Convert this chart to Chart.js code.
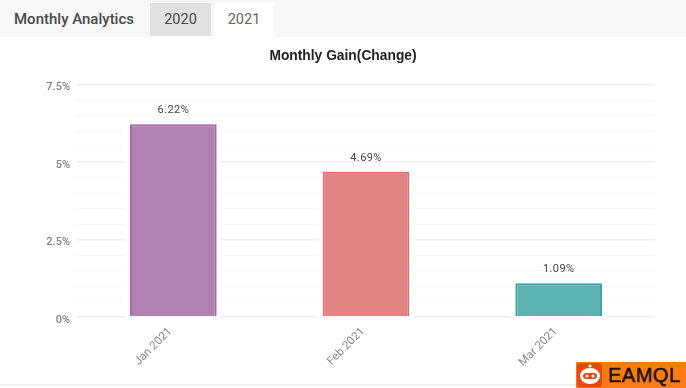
<!DOCTYPE html>
<html>
<head>
<meta charset="utf-8">
<script src="https://cdn.jsdelivr.net/npm/chart.js@4"></script>
<style>
  html, body { margin: 0; padding: 0; background: #fff; overflow: hidden; }
  body { width: 686px; height: 388px; position: relative; font-family: Roboto, sans-serif; }
  #page { position: absolute; left: 0; top: 0; width: 686px; height: 388px; filter: blur(0.4px); }
  #header { position: absolute; left: 0; top: 0; width: 686px; height: 37px; background: #f7f7f7; }
  #header div { position: absolute; line-height: 34px; font-size: 14.5px; color: #4a4a4a; }
  #heading { left: 14px; top: 2px; font-weight: 500; font-size: 15px !important; }
  #tab2020 { left: 150px; top: 3px; width: 61px; height: 33px; background: #e1e1e1; text-align: center; }
  #tab2021 { left: 214px; top: 3px; width: 60px; height: 34px; background: #fff; text-align: center; color: #666 !important; }
  #chartBox { position: absolute; left: 0; top: 37px; width: 686px; height: 348px; }
  #footer { position: absolute; left: 0; top: 384px; width: 686px; height: 2px; background: #f1f1f1; }
  #badge { position: absolute; left: 576px; top: 362px; width: 110px; height: 26px; background: #fb7a14; overflow: hidden; }
  #badge .icon { position: absolute; left: 1px; top: 1px; width: 25px; height: 24px; background: #e8480f; border-radius: 4px; }
  #badge svg { position: absolute; left: 2px; top: 1px; }
  #badge .name { position: absolute; left: 32px; top: 0; line-height: 27px; font-size: 20px; color: #1a1208; letter-spacing: 0.5px; -webkit-text-stroke: 0.5px #1a1208; font-family: "Liberation Sans", sans-serif; }
</style>
</head>
<body>
<div id="page">
<div id="header">
  <div id="heading">Monthly Analytics</div>
  <div id="tab2020">2020</div>
  <div id="tab2021">2021</div>
</div>
<div id="chartBox"><canvas id="gainChart"></canvas></div>
<div id="footer"></div>
<div id="badge">
  <div class="icon"></div>
  <svg width="24" height="24" viewBox="0 0 24 24">
    <circle cx="12" cy="3" r="1.6" fill="#fff"/>
    <ellipse cx="12" cy="13" rx="10" ry="8" fill="#fff"/>
    <rect x="5" y="10" width="14" height="6" rx="3" fill="#e8480f"/>
    <circle cx="9" cy="13" r="1.5" fill="#fff"/>
    <circle cx="15" cy="13" r="1.5" fill="#fff"/>
  </svg>
  <div class="name">EAMQL</div>
</div>
</div>
<script>
const categories = ["Jan 2021", "Feb 2021", "Mar 2021"];
const gains = [6.22, 4.69, 1.09];
const gainLabels = ["6.22%", "4.69%", "1.09%"];
const barFills = ["#b181b2", "#e28482", "#5bb3b3"];
const barEdges = ["#a867a9", "#dc6f6d", "#3fa5a5"];
const majorTicks = [0, 2.5, 5, 7.5];

// white halo behind the bars, the gridlines stop short of them
const barHalo = {
  id: "barHalo",
  beforeDatasetsDraw(chart) {
    const ctx = chart.ctx;
    ctx.save();
    ctx.fillStyle = "#fff";
    chart.getDatasetMeta(0).data.forEach(bar => {
      ctx.fillRect(bar.x - bar.width / 2 - 4, bar.y - 4, bar.width + 8, bar.base - bar.y + 6);
    });
    ctx.restore();
  }
};

// value above each bar
const valueLabels = {
  id: "valueLabels",
  afterDatasetsDraw(chart) {
    const ctx = chart.ctx;
    ctx.save();
    ctx.font = "11px Roboto";
    ctx.fillStyle = "#444";
    ctx.textAlign = "center";
    ctx.textBaseline = "bottom";
    ctx.letterSpacing = "0.4px";
    chart.getDatasetMeta(0).data.forEach((bar, i) => {
      ctx.fillText(gainLabels[i], bar.x, bar.y - 8);
    });
    ctx.restore();
  }
};

new Chart(document.getElementById("gainChart"), {
  type: "bar",
  data: {
    labels: categories,
    datasets: [{
      data: gains,
      backgroundColor: barFills,
      borderColor: barEdges,
      borderWidth: 2,
      barPercentage: 0.45,
      categoryPercentage: 1
    }]
  },
  plugins: [barHalo, valueLabels],
  options: {
    responsive: true,
    maintainAspectRatio: false,
    animation: false,
    layout: { padding: { top: 11, right: 31, bottom: 0, left: 31 } },
    plugins: {
      legend: { display: false },
      tooltip: { enabled: false },
      title: {
        display: true,
        text: "Monthly Gain(Change)",
        color: "#222",
        font: { family: "Liberation Sans", size: 13.8, weight: "bold" },
        padding: { top: 0, bottom: 20 }
      }
    },
    scales: {
      x: {
        grid: { display: false },
        border: { display: false },
        ticks: { color: "#888", font: { family: "Roboto", size: 11.5 }, minRotation: 45, maxRotation: 45, padding: 0, labelOffset: -3 },
        afterFit(scale) { scale.height = 68; }
      },
      y: {
        min: 0,
        max: 7.5,
        afterFit(scale) { scale.width = 46; },
        border: { display: false },
        grid: {
          drawTicks: false,
          color: c => majorTicks.includes(c.tick.value) ? "#eeeeee" : "#f7f7f7",
          lineWidth: c => majorTicks.includes(c.tick.value) ? 1.5 : 1
        },
        ticks: {
          stepSize: 0.5,
          autoSkip: false,
          color: "#808080",
          padding: 7,
          labelOffset: 3,
          font: { family: "Roboto", size: 11, weight: "500" },
          callback: v => majorTicks.includes(v) ? v + "%" : ""
        }
      }
    }
  }
});
</script>
</body>
</html>
